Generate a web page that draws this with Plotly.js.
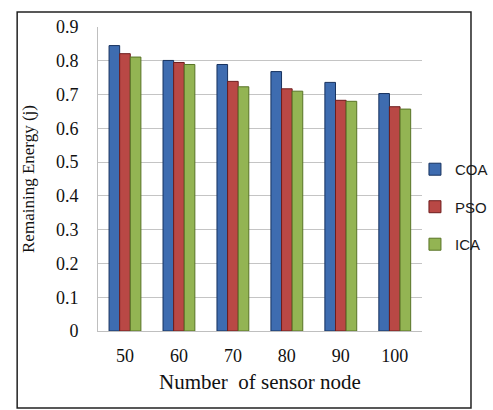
<!DOCTYPE html>
<html>
<head>
<meta charset="utf-8">
<script src="https://cdn.plot.ly/plotly-3.0.1.min.js"></script>
<style>html,body{margin:0;padding:0;background:#fff;}#chart{width:493px;height:410px;}</style>
</head>
<body>
<div id="chart"></div>
<script>
const categories = ["50", "60", "70", "80", "90", "100"];
const coa = [0.845, 0.801, 0.789, 0.768, 0.736, 0.703];
const pso = [0.821, 0.795, 0.739, 0.717, 0.683, 0.664];
const ica = [0.811, 0.789, 0.723, 0.710, 0.680, 0.657];
const seriesNames = ["COA", "PSO", "ICA"];

const fills = ["#3e6cb0", "#b94845", "#93b453"];
const edges = ["#17325f", "#6e1c1c", "#587326"];
const values = [coa, pso, ica];

const traces = values.map((v, i) => ({
  type: "bar",
  name: seriesNames[i],
  x: categories,
  y: v,
  legendgroup: seriesNames[i],
  marker: {color: fills[i], line: {color: edges[i], width: 1}},
  hoverinfo: "skip"
}));

const serif = "Liberation Serif, Times New Roman, serif";

const layout = {
  width: 493, height: 410,
  margin: {l: 98, r: 0, t: 27, b: 79},
  paper_bgcolor: "#ffffff",
  plot_bgcolor: "#ffffff",
  barmode: "group",
  bargap: 0.41,
  bargroupgap: 0,
  showlegend: true,
  legend: {
    x: 0.843, xanchor: "left", y: 0.408, yanchor: "middle",
    font: {family: "Liberation Sans, Arial, sans-serif", size: 15, color: "#1a1a1a"},
    tracegroupgap: 15, itemwidth: 30, bgcolor: "rgba(0,0,0,0)"
  },
  xaxis: {
    type: "category",
    domain: [0, 0.861],
    showgrid: false,
    showline: true, linecolor: "#bfbfbf", linewidth: 1,
    ticks: "", ticklabelstandoff: 8,
    tickfont: {family: serif, size: 18, color: "#111"},
    title: {text: "Number  of sensor node", font: {family: serif, size: 21, color: "#111"}, standoff: 9},
    fixedrange: true
  },
  yaxis: {
    range: [0, 0.9], dtick: 0.1, tick0: 0,
    showgrid: true, gridcolor: "#c4c4c4", gridwidth: 1,
    showline: true, linecolor: "#bfbfbf", linewidth: 1,
    zeroline: false,
    ticks: "", ticklen: 0, ticklabelstandoff: 15,
    tickfont: {family: serif, size: 18, color: "#111"},
    title: {text: "Remaining Energy (j)", font: {family: serif, size: 17, color: "#111"}, standoff: 16},
    fixedrange: true
  },
  shapes: [{
    type: "rect", xref: "paper", yref: "paper",
    x0: -0.215, x1: 0.992, y0: -0.253, y1: 1.049,
    line: {color: "#222", width: 1.5}, fillcolor: "rgba(0,0,0,0)", layer: "above"
  }]
};

Plotly.newPlot("chart", traces, layout, {displayModeBar: false, staticPlot: true});
</script>
</body>
</html>
